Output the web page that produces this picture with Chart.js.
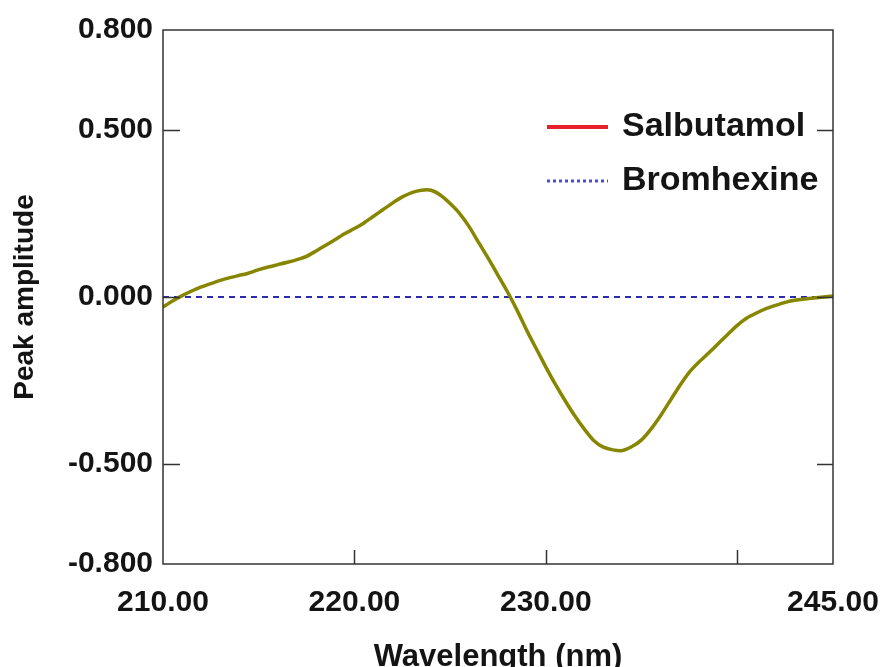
<!DOCTYPE html>
<html>
<head>
<meta charset="utf-8">
<title>Peak amplitude vs wavelength</title>
<script src="https://cdn.jsdelivr.net/npm/chart.js@4.4.1/dist/chart.umd.min.js"></script>
<style>
  html, body { margin: 0; padding: 0; background: #ffffff; }
  #wrap { width: 880px; height: 667px; }
</style>
</head>
<body>
<div id="wrap"><canvas id="chart" width="880" height="667"></canvas></div>
<script>
// Wavelength grid (nm)
const wavelengths = [
  210.0, 210.5, 211.0, 211.5, 212.0, 212.5, 213.0, 213.5, 214.0, 214.5,
  215.0, 215.5, 216.0, 216.5, 217.0, 217.5, 218.0, 218.5, 219.0, 219.5,
  220.0, 220.5, 221.0, 221.5, 222.0, 222.5, 223.0, 223.5, 224.0, 224.5,
  225.0, 225.5, 226.0, 226.5, 227.0, 227.5, 228.0, 228.5, 229.0, 229.5,
  230.0, 230.5, 231.0, 231.5, 232.0, 232.5, 233.0, 233.5, 234.0, 234.5,
  235.0, 235.5, 236.0, 236.5, 237.0, 237.5, 238.0, 238.5, 239.0, 239.5,
  240.0, 240.5, 241.0, 241.5, 242.0, 242.5, 243.0, 243.5, 244.0, 244.5,
  245.0
];

// Derivative peak amplitude of Salbutamol
const salbutamol = [
  -0.030, -0.012, 0.004, 0.018, 0.030, 0.040, 0.050, 0.058, 0.065, 0.072,
   0.082, 0.090, 0.097, 0.104, 0.112, 0.122, 0.138, 0.155, 0.172, 0.190,
   0.205, 0.222, 0.242, 0.262, 0.282, 0.300, 0.313, 0.320, 0.320, 0.305,
   0.280, 0.250, 0.210, 0.162, 0.115, 0.065, 0.015, -0.040, -0.100, -0.155,
  -0.210, -0.262, -0.310, -0.355, -0.395, -0.430, -0.450, -0.458, -0.460, -0.448,
  -0.428, -0.395, -0.355, -0.310, -0.265, -0.225, -0.195, -0.168, -0.140, -0.112,
  -0.085, -0.063, -0.048, -0.035, -0.025, -0.016, -0.010, -0.006, -0.003, 0.000,
   0.003
];

// Bromhexine stays at zero across the range (zero-crossing line)
const bromhexine = [
  0, 0, 0, 0, 0, 0, 0, 0, 0, 0,
  0, 0, 0, 0, 0, 0, 0, 0, 0, 0,
  0, 0, 0, 0, 0, 0, 0, 0, 0, 0,
  0, 0, 0, 0, 0, 0, 0, 0, 0, 0,
  0, 0, 0, 0, 0, 0, 0, 0, 0, 0,
  0, 0, 0, 0, 0, 0, 0, 0, 0, 0,
  0, 0, 0, 0, 0, 0, 0, 0, 0, 0,
  0
];

// Axis ticks
const xTicks = [210, 220, 230, 240, 245];
const xTickLabels = ['210.00', '220.00', '230.00', '', '245.00'];
const yTicks = [0.8, 0.5, 0.0, -0.5, -0.8];
const yTickLabels = ['0.800', '0.500', '0.000', '-0.500', '-0.800'];

// Where the small inward tick marks go
const xMarks = [220, 230, 240];
const yMarks = [0.5, 0.0, -0.5];

const FONT = '"Liberation Sans", Arial, Helvetica, sans-serif';
const TEXT = '#141414';

const toPoints = (ys) => wavelengths.map((x, i) => ({ x: x, y: ys[i] }));

// Plot frame with inward tick marks
const framePlugin = {
  id: 'frame',
  afterDatasetsDraw(chart) {
    const { ctx, chartArea: a, scales: { x, y } } = chart;
    ctx.save();
    ctx.strokeStyle = '#333333';
    ctx.lineWidth = 1.5;
    ctx.strokeRect(a.left, a.top, a.right - a.left, a.bottom - a.top);
    ctx.beginPath();
    xMarks.forEach(v => {
      const px = Math.round(x.getPixelForValue(v)) + 0.5;
      ctx.moveTo(px, a.bottom);
      ctx.lineTo(px, a.bottom - 14);
    });
    yMarks.forEach(v => {
      const py = Math.round(y.getPixelForValue(v)) + 0.5;
      ctx.moveTo(a.left, py);
      ctx.lineTo(a.left + 17, py);
      ctx.moveTo(a.right, py);
      ctx.lineTo(a.right - 16, py);
    });
    ctx.stroke();
    ctx.restore();
  }
};

// Legend drawn inside the plot, top right
const legendPlugin = {
  id: 'insideLegend',
  afterDraw(chart) {
    const { ctx } = chart;
    const items = chart.data.datasets;
    const x0 = 547, x1 = 608, tx = 622;
    const rows = [127, 181];
    ctx.save();
    ctx.font = 'bold 34px ' + FONT;
    ctx.textBaseline = 'middle';
    ctx.textAlign = 'left';
    items.forEach((ds, i) => {
      const yy = rows[i];
      ctx.beginPath();
      ctx.strokeStyle = ds.legendColor;
      ctx.lineWidth = ds.legendWidth;
      ctx.setLineDash(ds.legendDash);
      ctx.moveTo(x0, yy);
      ctx.lineTo(x1, yy);
      ctx.stroke();
      ctx.setLineDash([]);
      ctx.fillStyle = TEXT;
      ctx.fillText(ds.label, tx, yy);
    });
    ctx.restore();
  }
};

new Chart(document.getElementById('chart'), {
  type: 'line',
  data: {
    datasets: [
      {
        label: 'Salbutamol',
        data: toPoints(salbutamol),
        borderColor: '#868600',
        borderWidth: 3.5,
        pointRadius: 0,
        tension: 0.2,
        legendColor: '#e8202c',
        legendWidth: 4,
        legendDash: []
      },
      {
        label: 'Bromhexine',
        data: toPoints(bromhexine),
        borderColor: '#2b2bb0',
        borderWidth: 2,
        borderDash: [6, 5],
        pointRadius: 0,
        legendColor: '#4a4ae0',
        legendWidth: 3,
        legendDash: [3, 3]
      }
    ]
  },
  options: {
    responsive: false,
    animation: false,
    layout: { padding: { left: 0, right: 47, top: 30, bottom: 0 } },
    plugins: {
      legend: { display: false },
      tooltip: { enabled: false }
    },
    scales: {
      x: {
        type: 'linear',
        min: 210,
        max: 245,
        grid: { display: false, drawTicks: false },
        border: { display: false },
        afterBuildTicks(scale) {
          scale.ticks = xTicks.map(v => ({ value: v }));
        },
        afterFit(scale) {
          scale.height = 103;
          scale.paddingLeft = 0;
          scale.paddingRight = 0;
        },
        ticks: {
          autoSkip: false,
          maxRotation: 0,
          padding: 21,
          color: TEXT,
          font: { family: FONT, size: 30, weight: 'bold' },
          callback: (v) => {
            const i = xTicks.indexOf(v);
            return i >= 0 ? xTickLabels[i] : '';
          }
        },
        title: {
          display: true,
          text: 'Wavelength (nm)',
          color: TEXT,
          font: { family: FONT, size: 31, weight: 'bold', lineHeight: 0.6 },
          padding: { top: 0, bottom: 0 }
        }
      },
      y: {
        type: 'linear',
        min: -0.8,
        max: 0.8,
        grid: { display: false, drawTicks: false },
        border: { display: false },
        afterBuildTicks(scale) {
          scale.ticks = yTicks.map(v => ({ value: v }));
        },
        afterFit(scale) {
          scale.width = 163;
          scale.paddingTop = 0;
          scale.paddingBottom = 0;
        },
        ticks: {
          autoSkip: false,
          padding: 10,
          color: TEXT,
          font: { family: FONT, size: 30, weight: 'bold' },
          callback: (v) => {
            const i = yTicks.findIndex(t => Math.abs(t - v) < 1e-9);
            return i >= 0 ? yTickLabels[i] : '';
          }
        },
        title: {
          display: true,
          text: 'Peak amplitude',
          color: TEXT,
          font: { family: FONT, size: 28, weight: 'bold', lineHeight: 1 },
          padding: { top: 11, bottom: 0 }
        }
      }
    }
  },
  plugins: [framePlugin, legendPlugin]
});
</script>
</body>
</html>
